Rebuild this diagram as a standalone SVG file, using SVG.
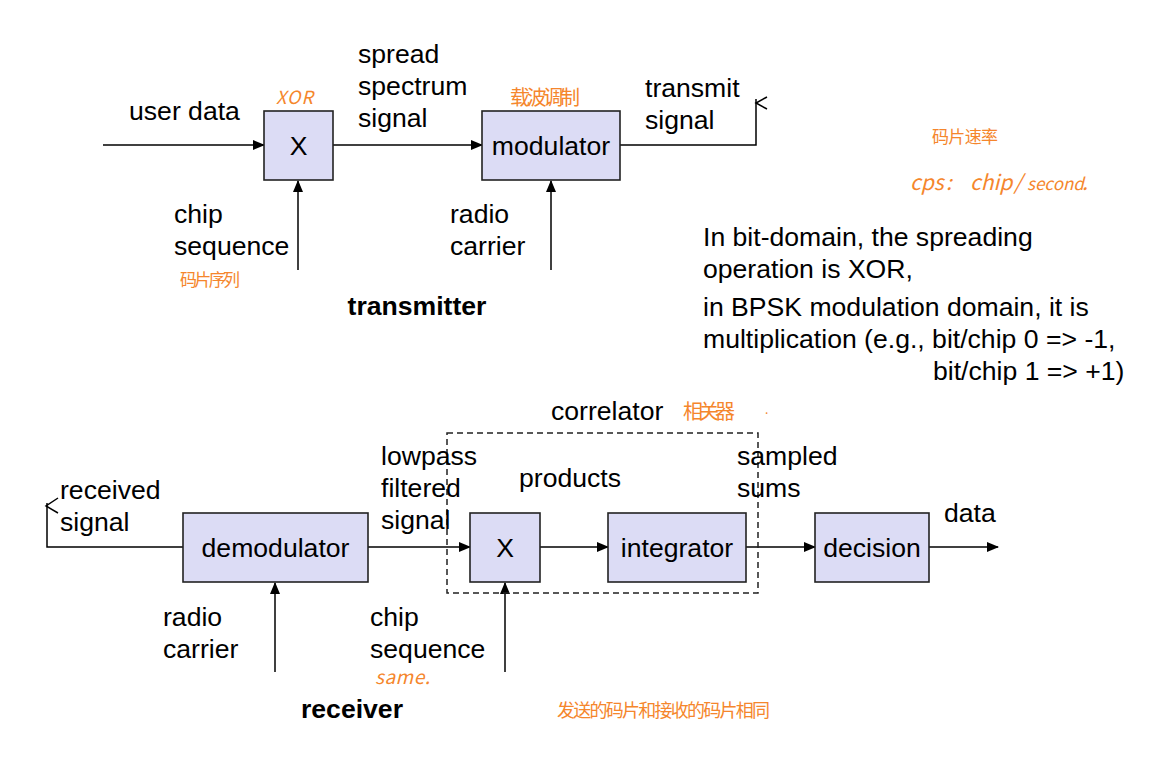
<svg xmlns="http://www.w3.org/2000/svg" width="1150" height="765" viewBox="0 0 1150 765">
<defs>
<marker id="ah" markerWidth="12" markerHeight="10" refX="11" refY="5" orient="auto" markerUnits="userSpaceOnUse">
<path d="M0,0 L12,5 L0,10 Z" fill="#000"/>
</marker>
<style>
.box{fill:#dcdcf5;stroke:#222;stroke-width:1.6}
.t{font-family:"Liberation Sans",Arial,sans-serif;font-size:26.6px;fill:#000}
.c{text-anchor:middle}
.b{font-weight:bold}
.ln{fill:none;stroke:#000;stroke-width:1.5}
.ar{fill:none;stroke:#000;stroke-width:1.5;marker-end:url(#ah)}
.hw{font-family:"Noto Sans CJK SC","Liberation Sans",sans-serif;fill:#f5862c;font-weight:400}
</style>
</defs>
<rect width="1150" height="765" fill="#fff"/>

<g id="connectors">
<line class="ar" x1="103" y1="145" x2="264" y2="145"/>
<line class="ar" x1="333" y1="145" x2="482" y2="145"/>
<polyline class="ln" points="620,145 756,145 756,99"/>
<polyline class="ln" points="767,97 756,103 767,109"/>
<line class="ar" x1="298" y1="270" x2="298" y2="181"/>
<line class="ar" x1="551" y1="270" x2="551" y2="181"/>

<polyline class="ln" points="183,547 47,547 47,503"/>
<polyline class="ln" points="58,498 46,506 58,513"/>
<line class="ar" x1="368" y1="547" x2="470" y2="547"/>
<line class="ar" x1="540" y1="547" x2="608" y2="547"/>
<line class="ar" x1="746" y1="547" x2="815" y2="547"/>
<line class="ar" x1="929" y1="547" x2="998" y2="547"/>
<line class="ar" x1="275" y1="672" x2="275" y2="583"/>
<line class="ar" x1="505" y1="672" x2="505" y2="583"/>
</g>

<g id="correlator">
<rect x="447" y="433" width="311" height="160" fill="none" stroke="#222" stroke-width="1.5" stroke-dasharray="6,4"/>
<text class="t" x="551" y="420">correlator</text>
</g>

<g id="xor-tx">
<rect class="box" x="264" y="111" width="69" height="69"/>
<text class="t c" x="298.5" y="155">X</text>
</g>
<g id="modulator">
<rect class="box" x="482" y="111" width="138" height="69"/>
<text class="t c" x="551" y="155">modulator</text>
</g>
<g id="demodulator">
<rect class="box" x="183" y="513" width="185" height="69"/>
<text class="t c" x="275.5" y="557">demodulator</text>
</g>
<g id="xor-rx">
<rect class="box" x="470" y="513" width="70" height="69"/>
<text class="t c" x="505" y="557">X</text>
</g>
<g id="integrator">
<rect class="box" x="608" y="513" width="138" height="69"/>
<text class="t c" x="677" y="557">integrator</text>
</g>
<g id="decision">
<rect class="box" x="815" y="513" width="114" height="69"/>
<text class="t c" x="872" y="557">decision</text>
</g>

<g id="labels">
<text class="t" x="129" y="120">user data</text>
<text class="t" x="358" y="63">spread</text>
<text class="t" x="358" y="95">spectrum</text>
<text class="t" x="358" y="127">signal</text>
<text class="t" x="645" y="97">transmit</text>
<text class="t" x="645" y="129">signal</text>
<text class="t" x="174" y="223">chip</text>
<text class="t" x="174" y="255">sequence</text>
<text class="t" x="450" y="223">radio</text>
<text class="t" x="450" y="255">carrier</text>
<text class="t b c" x="417" y="315">transmitter</text>

<text class="t" x="703" y="246">In bit-domain, the spreading</text>
<text class="t" x="703" y="278">operation is XOR,</text>
<text class="t" x="703" y="316">in BPSK modulation domain, it is</text>
<text class="t" x="703" y="348">multiplication (e.g., bit/chip 0 =&gt; -1,</text>
<text class="t" x="933" y="380">bit/chip 1 =&gt; +1)</text>

<text class="t" x="60" y="499">received</text>
<text class="t" x="60" y="531">signal</text>
<text class="t" x="381" y="465">lowpass</text>
<text class="t" x="381" y="497">filtered</text>
<text class="t" x="381" y="529">signal</text>
<text class="t" x="519" y="487">products</text>
<text class="t" x="737" y="465">sampled</text>
<text class="t" x="737" y="497">sums</text>
<text class="t" x="944" y="522">data</text>
<text class="t" x="163" y="626">radio</text>
<text class="t" x="163" y="658">carrier</text>
<text class="t" x="370" y="626">chip</text>
<text class="t" x="370" y="658">sequence</text>
<text class="t b c" x="352" y="718">receiver</text>
</g>

<g id="annotations">
<text class="hw" x="276" y="104" font-size="18" textLength="37" font-style="italic">XOR</text>
<text class="hw" x="510" y="105" font-size="20" textLength="70">载波调制</text>
<text class="hw" x="932" y="143" font-size="17" textLength="66">码片速率</text>
<text class="hw" y="190" font-size="21" font-style="italic"><tspan x="910">cps</tspan><tspan x="946">:</tspan><tspan x="970">chip</tspan><tspan x="1014">/</tspan><tspan x="1027" font-size="17">second</tspan><tspan x="1082">.</tspan></text>
<text class="hw" x="180" y="286" font-size="17" textLength="60">码片序列</text>
<text class="hw" x="683" y="419" font-size="20" textLength="52">相关器</text>
<text class="hw" x="765" y="414" font-size="12">.</text>
<text class="hw" x="375" y="684" font-size="19" textLength="55" font-style="italic">same.</text>
<text class="hw" x="557" y="717" font-size="18" textLength="213">发送的码片和接收的码片相同</text>
</g>
</svg>
